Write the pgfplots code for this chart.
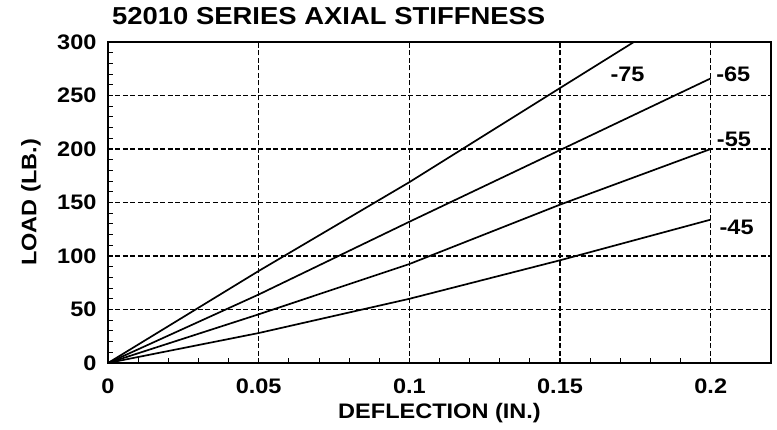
\documentclass[border=0pt]{standalone}
\usepackage{fontspec}
\setmainfont{Liberation Sans}[FakeStretch=1.12]
\usepackage{pgfplots}
\pgfplotsset{compat=1.18}

\newcommand{\lblfont}{\fontsize{21bp}{25bp}\selectfont\bfseries}

\begin{document}
\begin{tikzpicture}
\begin{axis}[
    scale only axis,
    width=663bp,
    height=321bp,
    xmin=0, xmax=0.22,
    ymin=0, ymax=300,
    xtick={0,0.05,0.1,0.15,0.2},
    xticklabels={0,0.05,0.1,0.15,0.2},
    ytick={0,50,100,150,200,250,300},
    minor x tick num=4,
    minor y tick num=4,
    tick pos=left,
    tick align=inside,
    major tick length=0pt,
    minor tick length=5bp,
    minor tick style={black, line width=0.9bp},
    grid=major,
    major grid style={black, line width=1.5bp, dash pattern=on 5bp off 2.5bp},
    axis line style={black, line width=2.2bp},
    /pgf/number format/assume math mode=true,
    ticklabel style={font=\lblfont},
    yticklabel style={xshift=-8bp},
    xticklabel style={yshift=-12bp},
    xlabel={DEFLECTION (IN.)},
    ylabel={LOAD (LB.)},
    label style={font=\lblfont},
    xlabel style={at={(axis description cs:0.5,0)}, anchor=north, yshift=-37bp},
    ylabel style={at={(axis description cs:-0.1161,0.5)}, anchor=center},
    title={52010 SERIES AXIAL STIFFNESS},
    title style={font=\fontsize{24.5bp}{28bp}\selectfont\bfseries, inner sep=0pt,
        anchor=base west, at={(axis description cs:0,1)}, xshift=4bp, yshift=12bp},
    clip=false,
]

% -45
\addplot[black, line width=1.7bp] coordinates {
    (0,0) (0.05,28) (0.1,60) (0.15,96) (0.2,134)
};
% -55
\addplot[black, line width=1.7bp] coordinates {
    (0,0) (0.05,45.5) (0.1,92.5) (0.15,148) (0.2,200)
};
% -65
\addplot[black, line width=1.7bp] coordinates {
    (0,0) (0.05,64) (0.1,132) (0.15,199) (0.2,266)
};
% -75
\addplot[black, line width=1.7bp] coordinates {
    (0,0) (0.05,86) (0.1,169) (0.15,257) (0.1745,300)
};

\node[font=\lblfont] at (axis cs:0.1724,270) {-75};
\node[font=\lblfont] at (axis cs:0.2075,270) {-65};
\node[font=\lblfont] at (axis cs:0.2077,209) {-55};
\node[font=\lblfont] at (axis cs:0.2086,126.6) {-45};

% page frame: 108bp left, 67bp below, 6bp right, 42bp above the axis box
\path (rel axis cs:0,0) ++(-108bp,-67bp) coordinate (bl);
\path (rel axis cs:1,1) ++(6bp,42bp) coordinate (tr);
\end{axis}
\pgfresetboundingbox
\useasboundingbox (bl) rectangle (tr);
\end{tikzpicture}
\end{document}
